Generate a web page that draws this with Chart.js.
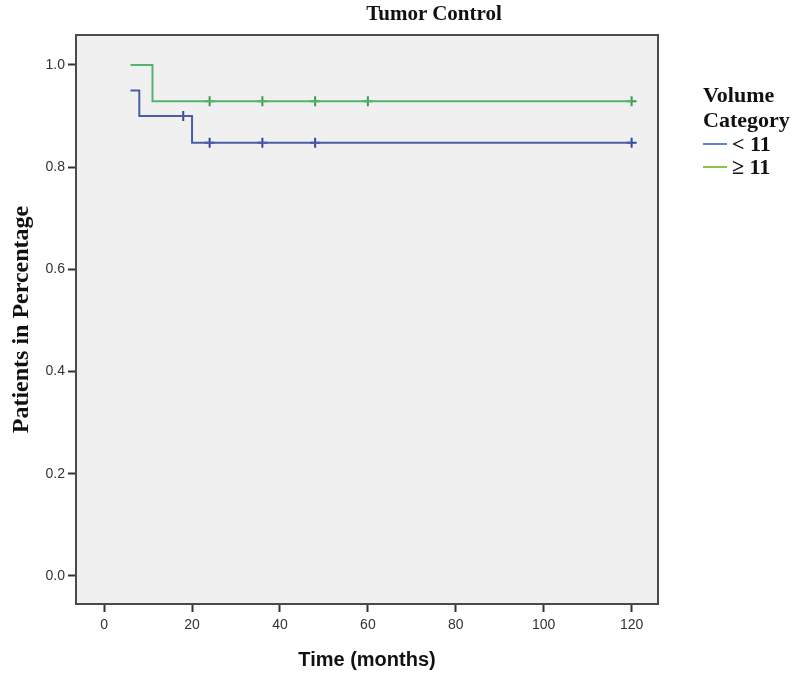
<!DOCTYPE html>
<html>
<head>
<meta charset="utf-8">
<script src="https://cdn.jsdelivr.net/npm/chart.js@4.4.1/dist/chart.umd.min.js"></script>
<style>
  html, body { margin: 0; padding: 0; background: #ffffff; }
  #wrap { position: relative; width: 800px; height: 673px; }
  #chart { position: absolute; left: 0; top: 0; }
  #title {
    position: absolute; left: 334px; width: 200px; top: 1px;
    text-align: center; font: bold 21px "Liberation Serif", serif; color: #111;
  }
  #legend {
    position: absolute; left: 703px; top: 82px;
    font: bold 22px "Liberation Serif", serif; color: #111; line-height: 25px;
  }
  .item { display: flex; align-items: center; line-height: 23px; }
  .swatch { display: inline-block; width: 24px; height: 2px; margin-right: 5px; }
</style>
</head>
<body>
<div id="wrap">
  <canvas id="chart" width="800" height="673"></canvas>
  <div id="title">Tumor Control</div>
  <div id="legend"></div>
</div>
<script>
const groupLabels = ["< 11", "≥ 11"];
const lineColors = ["#4a5ea8", "#55b36e"];
const censorColors = ["#34479a", "#3c9a55"];
const legendColors = ["#5b86cc", "#8cc63f"];

// step curves (time in months, survival proportion)
const lowTimes = [6, 8, 20, 120];
const lowSurvival = [0.95, 0.90, 0.848, 0.848];
const highTimes = [6, 11, 120];
const highSurvival = [1.0, 0.929, 0.929];

// censored observations
const lowCensorTimes = [18, 24, 36, 48, 120];
const lowCensorSurvival = [0.90, 0.848, 0.848, 0.848, 0.848];
const highCensorTimes = [24, 36, 48, 60, 120];
const highCensorSurvival = [0.929, 0.929, 0.929, 0.929, 0.929];

const xTicks = [0, 20, 40, 60, 80, 100, 120];
const yTicks = [0.0, 0.2, 0.4, 0.6, 0.8, 1.0];

function toPoints(xs, ys) {
  return xs.map((x, i) => ({ x, y: ys[i] }));
}

const plotFrame = {
  id: "plotFrame",
  beforeDraw(chart) {
    const { ctx, chartArea: a } = chart;
    ctx.save();
    ctx.fillStyle = "#f0f0f0";
    ctx.fillRect(a.left, a.top, a.right - a.left, a.bottom - a.top);
    ctx.restore();
  },
  afterDraw(chart) {
    const { ctx, chartArea: a } = chart;
    ctx.save();
    ctx.strokeStyle = "#4a4a4a";
    ctx.lineWidth = 2;
    ctx.strokeRect(a.left, a.top, a.right - a.left, a.bottom - a.top);
    ctx.restore();
  }
};

const tickFont = { family: "'Liberation Sans', Arial, sans-serif", size: 14 };

new Chart(document.getElementById("chart"), {
  type: "scatter",
  data: {
    datasets: [
      {
        label: groupLabels[0],
        data: toPoints(lowTimes, lowSurvival),
        showLine: true,
        stepped: true,
        borderColor: lineColors[0],
        borderWidth: 2,
        pointRadius: 0
      },
      {
        label: groupLabels[1],
        data: toPoints(highTimes, highSurvival),
        showLine: true,
        stepped: true,
        borderColor: lineColors[1],
        borderWidth: 2,
        pointRadius: 0
      },
      {
        label: groupLabels[0] + " censored",
        data: toPoints(lowCensorTimes, lowCensorSurvival),
        pointStyle: "cross",
        pointRadius: 5,
        borderColor: censorColors[0],
        borderWidth: 2
      },
      {
        label: groupLabels[1] + " censored",
        data: toPoints(highCensorTimes, highCensorSurvival),
        pointStyle: "cross",
        pointRadius: 5,
        borderColor: censorColors[1],
        borderWidth: 2
      }
    ]
  },
  options: {
    responsive: false,
    animation: false,
    layout: { padding: { top: 35, right: 142, left: 0, bottom: 0 } },
    plugins: {
      legend: { display: false },
      title: { display: false },
      tooltip: { enabled: false }
    },
    scales: {
      x: {
        type: "linear",
        min: -6.4,
        max: 126,
        afterBuildTicks: (scale) => { scale.ticks = xTicks.map((v) => ({ value: v })); },
        afterFit: (scale) => { scale.height = 69; },
        border: { display: false },
        grid: { drawOnChartArea: false, tickLength: 8, tickColor: "#333", tickWidth: 2 },
        ticks: { color: "#333", font: tickFont, padding: 5, maxRotation: 0 },
        title: {
          display: true,
          text: "Time (months)",
          color: "#111",
          font: { family: "'Liberation Sans', Arial, sans-serif", size: 20, weight: "bold" },
          padding: { top: 0, bottom: 1 }
        }
      },
      y: {
        type: "linear",
        min: -0.0548,
        max: 1.0587,
        afterBuildTicks: (scale) => { scale.ticks = yTicks.map((v) => ({ value: v })); },
        afterFit: (scale) => { scale.width = 76; },
        border: { display: false },
        grid: { drawOnChartArea: false, tickLength: 8, tickColor: "#333", tickWidth: 2 },
        ticks: {
          color: "#333",
          font: tickFont,
          padding: 3,
          callback: (v) => Number(v).toFixed(1)
        },
        title: {
          display: true,
          text: "Patients in Percentage",
          color: "#111",
          font: { family: "'Liberation Serif', serif", size: 24, weight: "bold" },
          padding: { top: 7, bottom: 0 }
        }
      }
    }
  },
  plugins: [plotFrame]
});

const legend = document.getElementById("legend");
legend.innerHTML = "<div>Volume</div><div>Category</div>" + groupLabels.map((label, i) =>
  `<div class="item"><span class="swatch" style="background:${legendColors[i]}"></span>${label}</div>`
).join("");
</script>
</body>
</html>
